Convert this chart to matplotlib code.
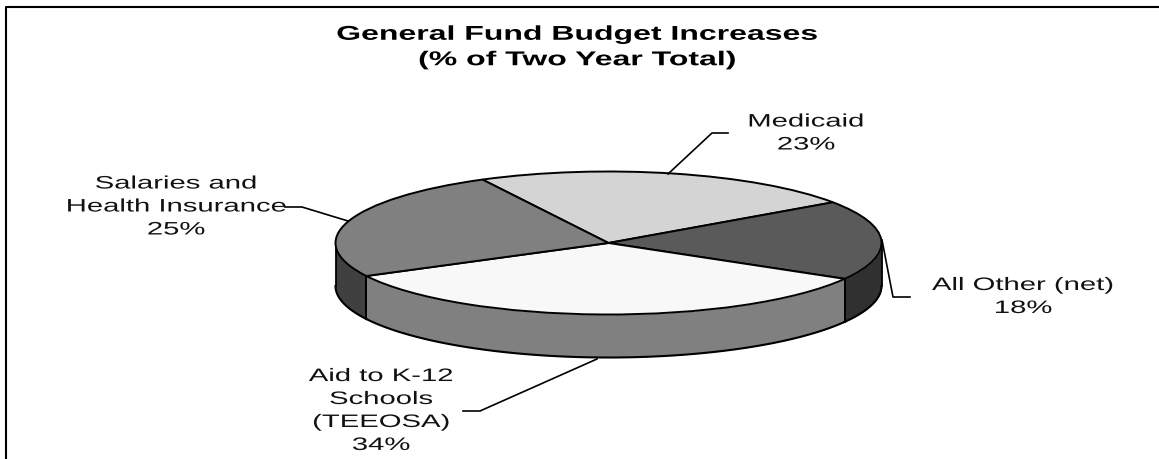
import numpy as np
import matplotlib
matplotlib.use("Agg")
import matplotlib.pyplot as plt
from matplotlib.patheffects import AbstractPathEffect
from matplotlib.transforms import Affine2D

plt.rcParams["font.family"] = ["Liberation Sans", "DejaVu Sans"]

W, H = 1159, 459
CX, CY = 608.5, 243.0
RX, RY = 273.0, 71.5
DEPTH = 43.0

categories = ["Medicaid", "All Other (net)", "Aid to K-12 Schools (TEEOSA)",
              "Salaries and Health Insurance"]
shares = [23, 18, 34, 25]
label_texts = ["Medicaid\n23%", "All Other (net)\n18%",
               "Aid to K-12\nSchools\n(TEEOSA)\n34%",
               "Salaries and\nHealth Insurance\n25%"]
top_colors = ["#d4d4d4", "#5a5a5a", "#f8f8f8", "#808080"]
wall_colors = ["#a0a0a0", "#303030", "#808080", "#404040"]
label_xy = [(806, 133.5), (1023, 297), (381, 411), (176, 207)]
leaders = [
    [(668, 174), (712, 133), (728, 133)],
    [(882, 240), (893, 297), (910, 297)],
    [(597, 359), (480, 411), (463, 411)],
    [(348, 221), (302, 207), (285, 207)],
]
START_ANGLE = 117.5


class StretchX(AbstractPathEffect):
    """Widen glyph outlines horizontally about a fixed pixel column."""

    def __init__(self, x_px, factor):
        super().__init__()
        self.x_px = x_px
        self.factor = factor

    def draw_path(self, renderer, gc, tpath, affine, rgbFace=None):
        stretch = (Affine2D().translate(-self.x_px, 0)
                   .scale(self.factor, 1).translate(self.x_px, 0))
        renderer.draw_path(gc, tpath, affine + stretch, rgbFace)


fig = plt.figure(figsize=(W / 100, H / 100), dpi=100, facecolor="white")
ax = fig.add_axes([0, 0, 1, 1])

# top face: unit pie stretched into an ellipse by the axis limits
ax.pie(shares, colors=top_colors, startangle=START_ANGLE, counterclock=False,
       wedgeprops=dict(edgecolor="black", linewidth=1.4, zorder=3))
ax.set_aspect("auto")
ax.set_xlim(-CX / RX, (W - CX) / RX)
ax.set_ylim((CY - H) / RY, CY / RY)
ax.set_axis_off()

# side wall: only the front half of each slice is visible
depth_units = DEPTH / RY
edges = START_ANGLE - np.cumsum([0] + shares) * 3.6
for i, color in enumerate(wall_colors):
    hi, lo = edges[i], edges[i + 1]
    for turn in (0, -360):
        a0, a1 = max(lo + turn, -180), min(hi + turn, 0)
        if a1 <= a0:
            continue
        t = np.radians(np.linspace(a0, a1, 120))
        x = np.cos(t)
        y = np.sin(t)
        ax.fill_between(x, y, y - depth_units, color=color, linewidth=0, zorder=1)
        ax.plot(x, y - depth_units, color="black", lw=1.5, zorder=2)
        for end in (0, -1):
            ax.plot([x[end]] * 2, [y[end], y[end] - depth_units],
                    color="black", lw=1.3, zorder=2)


def to_fig(p):
    return p[0] / W, 1 - p[1] / H


for pts in leaders:
    xs, ys = zip(*[to_fig(p) for p in pts])
    fig.add_artist(plt.Line2D(xs, ys, color="black", lw=1.2))

for text, xy in zip(label_texts, label_xy):
    fx, fy = to_fig(xy)
    t = fig.text(fx, fy, text, ha="center", va="center", fontsize=13,
                 linespacing=1.46, color="#111111")
    t.set_path_effects([StretchX(xy[0], 1.62)])

title_xy = (577, 47)
fx, fy = to_fig(title_xy)
title = fig.text(fx, fy, "General Fund Budget Increases\n(% of Two Year Total)",
                 ha="center", va="center", fontsize=14.4, fontweight="bold",
                 linespacing=1.43)
title.set_path_effects([StretchX(title_xy[0], 1.6)])

# outer frame: left and top edges only
xs, ys = zip(*[to_fig(p) for p in [(6, H), (6, 7), (W, 7)]])
fig.add_artist(plt.Line2D(xs, ys, color="black", lw=1.5))

fig.savefig("out.png", dpi=100)
